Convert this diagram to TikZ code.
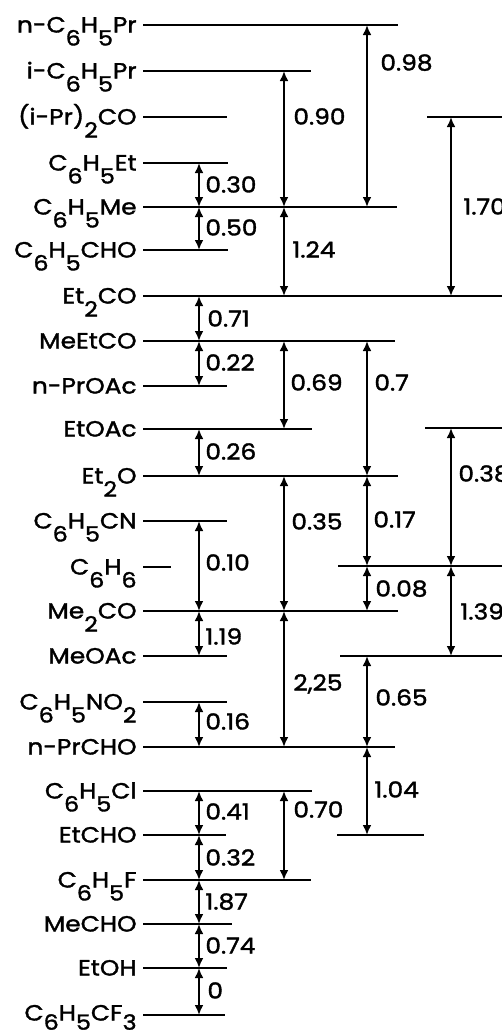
\documentclass[tikz,border=0pt]{standalone}
\usepackage{fontspec}
\setmainfont{Poppins}[FakeStretch=1.13,FakeBold=1.6]
\usetikzlibrary{arrows.meta}
\newcommand\dn[1]{\raisebox{-6.5pt}{\fontsize{10.5}{10.5}\selectfont #1}}
\newcommand\dnb[1]{\raisebox{-4.6pt}{\fontsize{10.5}{10.5}\selectfont #1}}
\tikzset{
  x=0.5pt, y=-0.5pt,
  lvl/.style={line width=1.2pt},
  arr/.style={line width=0.9pt, {Latex[length=5pt,width=4.4pt]}-{Latex[length=5pt,width=4.4pt]}},
  lab/.style={anchor=base east, inner sep=0pt, font=\fontsize{11}{13}\selectfont},
  num/.style={anchor=base west, inner sep=0pt, font=\fontsize{11}{13}\selectfont},
}
\begin{document}
\begin{tikzpicture}
\useasboundingbox (0,0) rectangle (502,1035);
\clip (0,0) rectangle (502,1035);
% columns
\coordinate (c1) at (199,0);
\coordinate (c2) at (284,0);
\coordinate (c3) at (367,0);
\coordinate (c4) at (451,0);
% levels (left end points)
\coordinate (nPr) at (143,25);
\coordinate (iPr) at (143,71);
\coordinate (iPrCO) at (143,117);
\coordinate (Et) at (143,163);
\coordinate (Me) at (143,207);
\coordinate (CHO) at (143,250);
\coordinate (EtCO) at (143,296);
\coordinate (MeEtCO) at (143,341);
\coordinate (nPrOAc) at (143,386);
\coordinate (EtOAc) at (143,429);
\coordinate (EtO) at (143,476);
\coordinate (CN) at (143,521);
\coordinate (Bz) at (143,567);
\coordinate (MeCO) at (143,611);
\coordinate (MeOAc) at (143,656);
\coordinate (NO) at (143,702);
\coordinate (nPrCHO) at (143,747);
\coordinate (Cl) at (143,791);
\coordinate (EtCHO) at (143,835);
\coordinate (F) at (143,880);
\coordinate (MeCHO) at (143,924);
\coordinate (EtOH) at (143,968);
\coordinate (CF) at (143,1015);
% right-hand levels
\coordinate (R1) at (427,117);
\coordinate (R2) at (425,428);
\coordinate (R3) at (338,566);
\coordinate (R4) at (340,656);
\coordinate (R5) at (337,835);
% level lines
\draw[lvl] (nPr) -- ++(255,0);
\draw[lvl] (iPr) -- ++(168,0);
\draw[lvl] (iPrCO) -- ++(84,0);
\draw[lvl] (Et) -- ++(85,0);
\draw[lvl] (Me) -- ++(254,0);
\draw[lvl] (CHO) -- ++(85,0);
\draw[lvl] (EtCO) -- ++(362,0);
\draw[lvl] (MeEtCO) -- ++(252,0);
\draw[lvl] (nPrOAc) -- ++(84,0);
\draw[lvl] (EtOAc) -- ++(169,0);
\draw[lvl] (EtO) -- ++(255,0);
\draw[lvl] (CN) -- ++(84,0);
\draw[lvl] (Bz) -- ++(28,0);
\draw[lvl] (MeCO) -- ++(255,0);
\draw[lvl] (MeOAc) -- ++(84,0);
\draw[lvl] (NO) -- ++(84,0);
\draw[lvl] (nPrCHO) -- ++(252,0);
\draw[lvl] (Cl) -- ++(169,0);
\draw[lvl] (EtCHO) -- ++(83,0);
\draw[lvl] (F) -- ++(168,0);
\draw[lvl] (MeCHO) -- ++(89,0);
\draw[lvl] (EtOH) -- ++(84,0);
\draw[lvl] (CF) -- ++(82,0);
\draw[lvl] (R1) -- ++(80,0);
\draw[lvl] (R2) -- ++(80,0);
\draw[lvl] (R3) -- ++(170,0);
\draw[lvl] (R4) -- ++(170,0);
\draw[lvl] (R5) -- ++(87,0);
% level labels
\node[lab] (tnPr) at (137,32.5) {n-C\dn{6}H\dn{5}Pr};
\node[lab] (tiPr) at (137,78.5) {i-C\dn{6}H\dn{5}Pr};
\node[lab] (tiPrCO) at (137,124.5) {(i-Pr)\dn{2}CO};
\node[lab] (tEt) at (137,170.5) {C\dn{6}H\dn{5}Et};
\node[lab] (tMe) at (137,214.5) {C\dn{6}H\dn{5}Me};
\node[lab] (tCHO) at (137,257.5) {C\dn{6}H\dn{5}CHO};
\node[lab] (tEtCO) at (137,303.5) {Et\dn{2}CO};
\node[lab] (tMeEtCO) at (137,348.5) {MeEtCO};
\node[lab] (tnPrOAc) at (137,393.5) {n-PrOAc};
\node[lab] (tEtOAc) at (137,436.5) {EtOAc};
\node[lab] (tEtO) at (137,483.5) {Et\dn{2}O};
\node[lab] (tCN) at (137,528.5) {C\dn{6}H\dn{5}CN};
\node[lab] (tBz) at (137,574.5) {C\dn{6}H\dn{6}};
\node[lab] (tMeCO) at (137,618.5) {Me\dn{2}CO};
\node[lab] (tMeOAc) at (137,663.5) {MeOAc};
\node[lab] (tNO) at (137,709.5) {C\dn{6}H\dn{5}NO\dn{2}};
\node[lab] (tnPrCHO) at (137,754.5) {n-PrCHO};
\node[lab] (tCl) at (137,798.5) {C\dn{6}H\dn{5}Cl};
\node[lab] (tEtCHO) at (137,842.5) {EtCHO};
\node[lab] (tF) at (137,887.5) {C\dn{6}H\dn{5}F};
\node[lab] (tMeCHO) at (137,931.5) {MeCHO};
\node[lab] (tEtOH) at (137,975.5) {EtOH};
\node[lab] (tCF) at (137,1020.5) {C\dnb{6}H\dnb{5}CF\dnb{3}};
% column 1
\draw[arr] (c1 |- Et) -- (c1 |- Me);
\draw[arr] (c1 |- Me) -- (c1 |- CHO);
\draw[arr] (c1 |- EtCO) -- (c1 |- MeEtCO);
\draw[arr] (c1 |- MeEtCO) -- (c1 |- nPrOAc);
\draw[arr] (c1 |- EtOAc) -- (c1 |- EtO);
\draw[arr] (c1 |- CN) -- (c1 |- MeCO);
\draw[arr] (c1 |- MeCO) -- (c1 |- MeOAc);
\draw[arr] (c1 |- NO) -- (c1 |- nPrCHO);
\draw[arr] (c1 |- Cl) -- (c1 |- EtCHO);
\draw[arr] (c1 |- EtCHO) -- (c1 |- F);
\draw[arr] (c1 |- F) -- (c1 |- MeCHO);
\draw[arr] (c1 |- MeCHO) -- (c1 |- EtOH);
\draw[arr] (c1 |- EtOH) -- (c1 |- CF);
% column 2
\draw[arr] (c2 |- iPr) -- (c2 |- Me);
\draw[arr] (c2 |- Me) -- (c2 |- EtCO);
\draw[arr] (c2 |- MeEtCO) -- (c2 |- EtOAc);
\draw[arr] (c2 |- EtO) -- (c2 |- MeCO);
\draw[arr] (c2 |- MeCO) -- (c2 |- nPrCHO);
\draw[arr] (c2 |- Cl) -- (c2 |- F);
% column 3
\draw[arr] (c3 |- nPr) -- (c3 |- Me);
\draw[arr] (c3 |- MeEtCO) -- (c3 |- EtO);
\draw[arr] (c3 |- EtO) -- (c3 |- R3);
\draw[arr] (c3 |- R3) -- (c3 |- MeCO);
\draw[arr] (c3 |- R4) -- (c3 |- nPrCHO);
\draw[arr] (c3 |- nPrCHO) -- (c3 |- R5);
% column 4
\draw[arr] (c4 |- R1) -- (c4 |- EtCO);
\draw[arr] (c4 |- R2) -- (c4 |- R3);
\draw[arr] (c4 |- R3) -- (c4 |- R4);
% values
\node[num] (v1) at (205,192.5) {0.30};
\node[num] (v2) at (205,235.5) {0.50};
\node[num] (v3) at (207,326.5) {0.71};
\node[num] (v4) at (205,370.5) {0.22};
\node[num] (v5) at (205,459.5) {0.26};
\node[num] (v6) at (205,570.5) {0.10};
\node[num] (v7) at (205,644.5) {1.19};
\node[num] (v8) at (205,729.5) {0.16};
\node[num] (v9) at (205,819.5) {0.41};
\node[num] (v10) at (205,865.5) {0.32};
\node[num] (v11) at (205,909.5) {1.87};
\node[num] (v12) at (205,953.5) {0.74};
\node[num] (v13) at (207,998.5) {0};
\node[num] (v14) at (293,124.5) {0.90};
\node[num] (v15) at (292,257.5) {1.24};
\node[num] (v16) at (290,390.5) {0.69};
\node[num] (v17) at (291,529.5) {0.35};
\node[num] (v18) at (293,690.5) {2,25};
\node[num] (v19) at (293,817.5) {0.70};
\node[num] (v20) at (380,70.5) {0.98};
\node[num] (v21) at (374,390.5) {0.7};
\node[num] (v22) at (373,527.5) {0.17};
\node[num] (v23) at (375,596.5) {0.08};
\node[num] (v24) at (375,705.5) {0.65};
\node[num] (v25) at (374,797.5) {1.04};
\node[num] (v26) at (463,214.5) {1.70};
\node[num] (v27) at (458,481.5) {0.38};
\node[num] (v28) at (460,619.5) {1.39};
\end{tikzpicture}
\end{document}
